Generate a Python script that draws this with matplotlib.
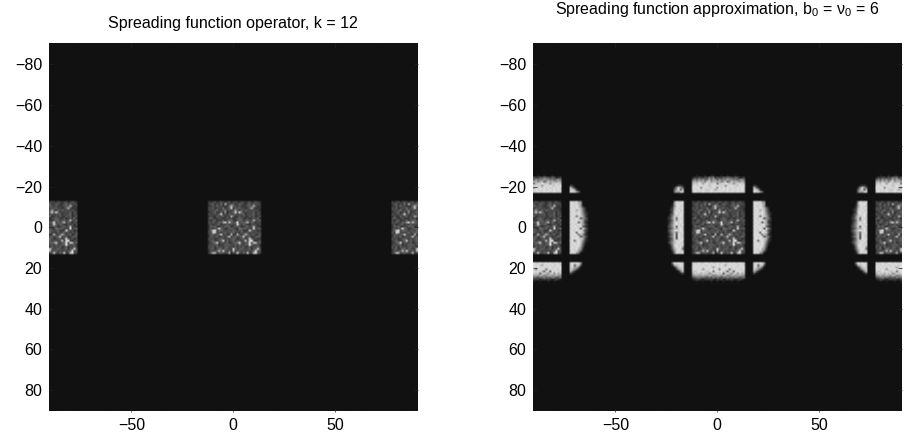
import matplotlib
matplotlib.use('Agg')
import matplotlib.pyplot as plt
import numpy as np

plt.rcParams['font.family'] = ['Liberation Sans', 'DejaVu Sans']
plt.rcParams['mathtext.fontset'] = 'custom'
plt.rcParams['mathtext.rm'] = 'Liberation Sans'
plt.rcParams['mathtext.it'] = 'Liberation Sans'

titles = ['Spreading function operator, k = 12',
          r'Spreading function approximation, b$_{0}$ = $\mathrm{\nu}_{0}$ = 6']
x_ticks = [-50, 0, 50]
y_ticks = [-80, -60, -40, -20, 0, 20, 40, 60, 80]

# brightness, one hex digit per cell, 0 = background
block = [
    '32342343234234324323423432',
    '34524362a43452354324535343',
    '23435342326a5434323454a423',
    '43523436245c344534235a4232',
    '34346335634348425354343432',
    '2345235282345c5c6333435243',
    '433435c3425345344524345243',
    '24325345243a52343432535234',
    '45323432343423454324234352',
    '3245233524553245534534a435',
    '43533548c4b545d3546a354243',
    '34234524353434c53543243424',
    '2545324354523454234534a332',
    '34345c5423454326545343d345',
    '35bd3554344354345323c53423',
    '43cb3434534553425345343434',
    '345345c3432a23a435a5345235',
    '2534523435b345345b34523454',
    '43423454343454234534c53423',
    '3453345c3534534434b3ce3234',
    '2356c3443523456c4345d3ca45',
    '34345233545344354354e53442',
    '43525343453425343523524353',
    '345236535433c53454345245c4',
    '24345a4c4353a3453434345d34',
    '35ba345434a234c4354c33bd43',
]
top_band = [
    '00100010011000100100010000',
    '13243243657243354654354123',
    '57586856a69858677978675786',
    '9a8b9a7bc8aa9a79b58b9a98a9',
    'bcbdc9cdbccd6bccdcbc8bcccb',
    'cdccdcdcbcdcdccc8cdcdcbdcd',
    'dcdd7dcdccdc8dcdcdcdccdcdc',
    'cdcdcdcbcdc9cdcdcdccdcdcdc',
    'cdcccdcccdcdccdccdcdccdccc',
]
bottom_band = [
    'cccdccddcdccdccdccdcdccdcc',
    'cdcdcdccdcdcdcdc9dcdcdccdc',
    'dcdcdcdcdc9cdcdcdcdcdccdcd',
    'cdcdc8cdcdcdc7cdcd6cdcdccd',
    'cbcdcdcbcd6cdcdcb5cc5dcdcc',
    'acbcacbc8acbcbc5bca8bc8cab',
    '89a89a98a9789a89a789a89a88',
    '45675654647565465756576456',
    '12332123232132312323212321',
    '00100100010010010001001000',
]
left_band = [
    '000008dccd',
    '000019dcdc',
    '000028cdcc',
    '00013adccd',
    '00024bcdcc',
    '00014cdccd',
    '00035bdcdc',
    '00137cbcdc',
    '00248c5dcc',
    '00136c8cdc',
    '00147cdcdc',
    '00258cdccd',
    '00358c5dcc',
    '00247b9cdc',
    '00369cdcdc',
    '00258b5ccd',
    '00147c4dcc',
    '00258c3dcc',
    '00136c4dcd',
    '00147bdcdc',
    '00258bcdcc',
    '00037cdccd',
    '00016bdcd9',
    '00015acdc6',
    '000038cdcc',
    '000017dccd',
]
right_band = [
    'dccd980000',
    'cdccb90000',
    'dccdb81000',
    'cdcdca6200',
    'dcd9cb6300',
    'cdccdb7310',
    'dcdcdb8420',
    'cdc6cc9510',
    'dccdc48630',
    'cdcdcc9420',
    'dcdc5b9310',
    'cdccdc9520',
    'dcdccd6310',
    'cdcdc4c730',
    'dccdcda420',
    'cdc5dcb510',
    'dcdc6b8310',
    'cdcdc48620',
    'cdcdcca410',
    'dc6cdb8310',
    'cdccdb6200',
    'dcdcda5100',
    'cdcdc94000',
    'dccda82000',
    'cdcc951000',
    'dcd8600000',
]
corner_tl = ['001331', '028c85', '059d4b', '06a8cc']
corner_tr = ['32000', 'b6200', 'cc920', 'dcc85']
corner_bl = ['7dcdcc', '2abcdc', '027bcc', '0038ac', '00017b', '000014']
corner_br = ['cdcdc8', 'cd5bc4', 'cc8a50', 'ca8410', 'a62000', '410000']


def paste(img, rows, x0, y0):
    # rows start at data position (x0, y0), the picture repeats every 90 in x
    for i, row in enumerate(rows):
        for j, ch in enumerate(row):
            for shift in (-90, 0, 90):
                col = x0 + j + shift + 90
                if 0 <= col <= 180:
                    img[y0 + i + 90, col] = 17 + 15.9 * int(ch, 16)


left_img = np.full((181, 181), 17.0)
paste(left_img, block, -12, -12)

right_img = left_img.copy()
paste(right_img, top_band, -12, -25)
paste(right_img, bottom_band, -12, 18)
paste(right_img, left_band, -26, -12)
paste(right_img, right_band, 18, -12)
paste(right_img, corner_tl, -22, -20)
paste(right_img, corner_tr, 18, -20)
paste(right_img, corner_bl, -22, 18)
paste(right_img, corner_br, 18, 18)

fig = plt.figure(figsize=(9.13, 4.4), dpi=100)
ax1 = fig.add_axes([49 / 913, 1 - 411.5 / 440, 368.5 / 913, 368.5 / 440])
ax2 = fig.add_axes([533 / 913, 1 - 411.5 / 440, 368.5 / 913, 368.5 / 440])

for ax, img, title in zip([ax1, ax2], [left_img, right_img], titles):
    ax.imshow(img, cmap='gray', vmin=0, vmax=255, interpolation='bilinear',
              extent=(-90.5, 90.5, 90.5, -90.5), aspect='auto')
    ax.set_xticks(x_ticks)
    ax.set_yticks(y_ticks)
    ax.tick_params(direction='in', length=3, width=0.5, top=True, right=True,
                   labelsize=11.5, color='#222222', pad=5)
    for s in ax.spines.values():
        s.set_visible(False)

ax1.set_title(titles[0], fontsize=11.5, pad=11)
ax2.set_title(titles[1], fontsize=11.5, pad=21)

fig.savefig('out.png', dpi=100)
